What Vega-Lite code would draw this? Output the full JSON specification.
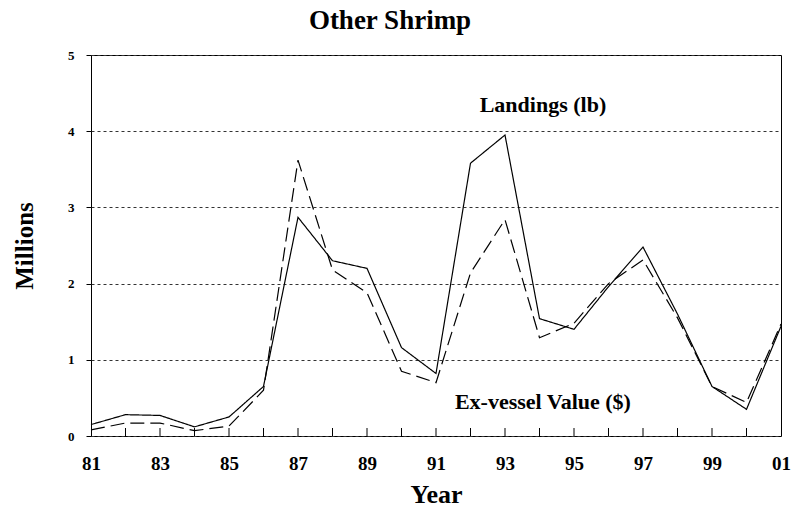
{
  "$schema": "https://vega.github.io/schema/vega-lite/v6.json",
  "autosize": "none",
  "width": 690,
  "height": 381,
  "padding": {"left": 91, "top": 55, "right": 12, "bottom": 74},
  "background": "white",
  "config": {
    "font": "Liberation Serif",
    "view": {"stroke": "black", "strokeWidth": 1}
  },
  "title": {
    "text": "Other Shrimp",
    "font": "Liberation Serif",
    "fontSize": 27,
    "fontWeight": "bold",
    "color": "black",
    "anchor": "middle",
    "dx": -46,
    "offset": 14
  },
  "datasets": {
    "series": [
      {"year": 1981, "series": "Landings (lb)", "value": 0.15},
      {"year": 1982, "series": "Landings (lb)", "value": 0.28},
      {"year": 1983, "series": "Landings (lb)", "value": 0.27},
      {"year": 1984, "series": "Landings (lb)", "value": 0.12},
      {"year": 1985, "series": "Landings (lb)", "value": 0.25},
      {"year": 1986, "series": "Landings (lb)", "value": 0.65},
      {"year": 1987, "series": "Landings (lb)", "value": 2.87},
      {"year": 1988, "series": "Landings (lb)", "value": 2.3},
      {"year": 1989, "series": "Landings (lb)", "value": 2.2},
      {"year": 1990, "series": "Landings (lb)", "value": 1.16},
      {"year": 1991, "series": "Landings (lb)", "value": 0.82},
      {"year": 1992, "series": "Landings (lb)", "value": 3.58},
      {"year": 1993, "series": "Landings (lb)", "value": 3.95},
      {"year": 1994, "series": "Landings (lb)", "value": 1.54},
      {"year": 1995, "series": "Landings (lb)", "value": 1.4},
      {"year": 1996, "series": "Landings (lb)", "value": 1.96},
      {"year": 1997, "series": "Landings (lb)", "value": 2.48},
      {"year": 1998, "series": "Landings (lb)", "value": 1.6},
      {"year": 1999, "series": "Landings (lb)", "value": 0.65},
      {"year": 2000, "series": "Landings (lb)", "value": 0.35},
      {"year": 2001, "series": "Landings (lb)", "value": 1.44},
      {"year": 1981, "series": "Ex-vessel Value ($)", "value": 0.08},
      {"year": 1982, "series": "Ex-vessel Value ($)", "value": 0.17},
      {"year": 1983, "series": "Ex-vessel Value ($)", "value": 0.17},
      {"year": 1984, "series": "Ex-vessel Value ($)", "value": 0.07},
      {"year": 1985, "series": "Ex-vessel Value ($)", "value": 0.13},
      {"year": 1986, "series": "Ex-vessel Value ($)", "value": 0.6},
      {"year": 1987, "series": "Ex-vessel Value ($)", "value": 3.62},
      {"year": 1988, "series": "Ex-vessel Value ($)", "value": 2.18},
      {"year": 1989, "series": "Ex-vessel Value ($)", "value": 1.88},
      {"year": 1990, "series": "Ex-vessel Value ($)", "value": 0.85},
      {"year": 1991, "series": "Ex-vessel Value ($)", "value": 0.7},
      {"year": 1992, "series": "Ex-vessel Value ($)", "value": 2.14},
      {"year": 1993, "series": "Ex-vessel Value ($)", "value": 2.84},
      {"year": 1994, "series": "Ex-vessel Value ($)", "value": 1.29},
      {"year": 1995, "series": "Ex-vessel Value ($)", "value": 1.48},
      {"year": 1996, "series": "Ex-vessel Value ($)", "value": 2.0},
      {"year": 1997, "series": "Ex-vessel Value ($)", "value": 2.31},
      {"year": 1998, "series": "Ex-vessel Value ($)", "value": 1.55},
      {"year": 1999, "series": "Ex-vessel Value ($)", "value": 0.65},
      {"year": 2000, "series": "Ex-vessel Value ($)", "value": 0.44},
      {"year": 2001, "series": "Ex-vessel Value ($)", "value": 1.47}
    ],
    "labels": [
      {"year": 1994.1, "value": 4.35, "label": "Landings (lb)"},
      {"year": 1994.1, "value": 0.44, "label": "Ex-vessel Value ($)"}
    ],
    "ticks": [
      {"year": 1982}, {"year": 1983}, {"year": 1984}, {"year": 1985}, {"year": 1986},
      {"year": 1987}, {"year": 1988}, {"year": 1989}, {"year": 1990}, {"year": 1991},
      {"year": 1992}, {"year": 1993}, {"year": 1994}, {"year": 1995}, {"year": 1996},
      {"year": 1997}, {"year": 1998}, {"year": 1999}, {"year": 2000}
    ]
  },
  "layer": [
    {
      "data": {"name": "series"},
      "mark": {"type": "line", "color": "black", "strokeWidth": 1.2},
      "encoding": {
        "x": {
          "field": "year",
          "type": "quantitative",
          "scale": {"domain": [1981, 2001], "nice": false, "zero": false},
          "axis": {
            "title": "Year",
            "titleFont": "Liberation Serif",
            "titleFontSize": 26,
            "titleFontWeight": "bold",
            "titleColor": "black",
            "titlePadding": 8,
            "values": [1981,1983,1985,1987,1989,1991,1993,1995,1997,1999,2001],
            "labelExpr": "substring(toString(datum.value), 2, 4)",
            "labelFont": "Liberation Serif",
            "labelFontSize": 19,
            "labelFontWeight": "bold",
            "labelColor": "black",
            "labelPadding": 18,
            "labelFlush": false,
            "labelOverlap": false,
            "domain": false,
            "ticks": false,
            "grid": false
          }
        },
        "y": {
          "field": "value",
          "type": "quantitative",
          "scale": {"domain": [0, 5], "nice": false},
          "axis": {
            "title": "Millions",
            "titleFont": "Liberation Serif",
            "titleFontSize": 25,
            "titleFontWeight": "bold",
            "titleColor": "black",
            "titlePadding": 30,
            "values": [0, 1, 2, 3, 4, 5],
            "format": "d",
            "labelFont": "Liberation Serif",
            "labelFontSize": 13,
            "labelFontWeight": "bold",
            "labelColor": "black",
            "labelPadding": 12,
            "domain": false,
            "ticks": true,
            "tickSize": 5,
            "tickWidth": 1,
            "tickColor": "black",
            "grid": true,
            "gridColor": "#333",
            "gridDash": [3, 3],
            "gridWidth": 1
          }
        },
        "strokeDash": {
          "field": "series",
          "type": "nominal",
          "scale": {"domain": ["Landings (lb)", "Ex-vessel Value ($)"], "range": [[1, 0], [14, 6]]},
          "legend": null
        }
      }
    },
    {
      "data": {"name": "ticks"},
      "mark": {"type": "tick", "orient": "vertical", "size": 8, "thickness": 1, "color": "black", "opacity": 1, "yOffset": -4},
      "encoding": {
        "x": {"field": "year", "type": "quantitative"},
        "y": {"datum": 0, "type": "quantitative"}
      }
    },
    {
      "data": {"name": "labels"},
      "mark": {"type": "text", "font": "Liberation Serif", "fontSize": 22, "fontWeight": "bold", "color": "black", "align": "center", "baseline": "middle"},
      "encoding": {
        "x": {"field": "year", "type": "quantitative"},
        "y": {"field": "value", "type": "quantitative"},
        "text": {"field": "label"}
      }
    }
  ]
}
